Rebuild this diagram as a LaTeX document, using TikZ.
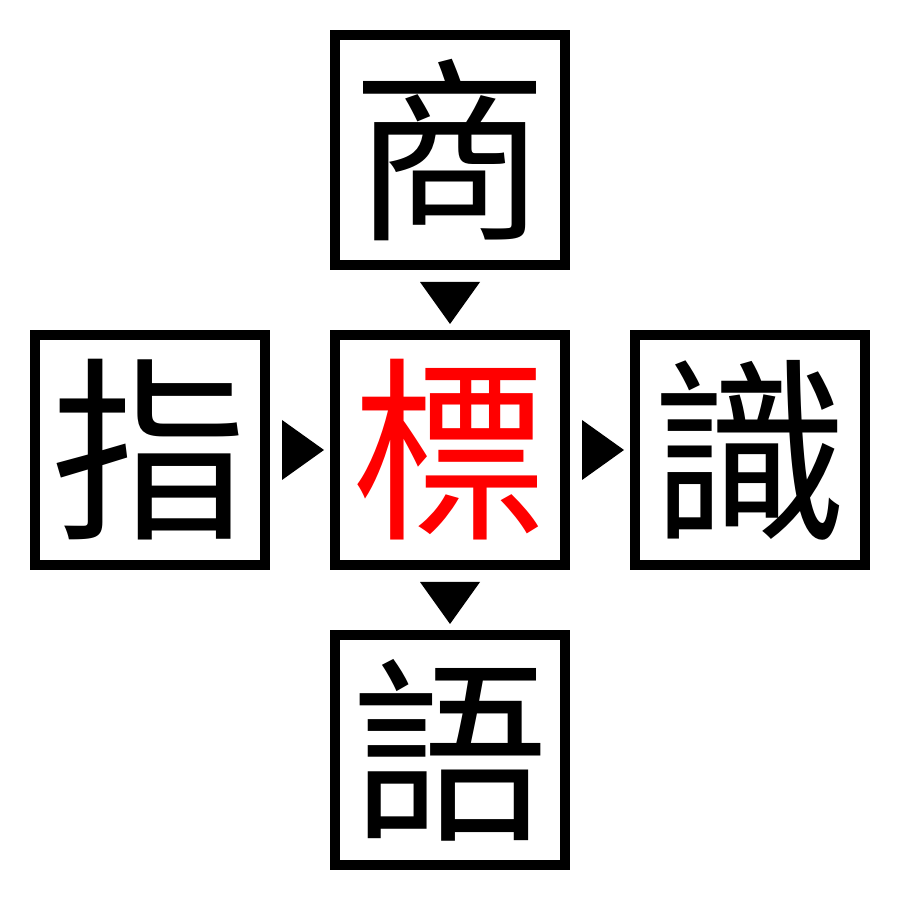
\documentclass[tikz,border=0pt]{standalone}
\usepackage{fontspec}
\newfontfamily\cjk{Noto Sans CJK TC}
\usetikzlibrary{calc}
\begin{document}
\begin{tikzpicture}[
  charbox/.style={draw=black, line width=0.1cm, minimum size=2.3cm, inner sep=0pt, font=\cjk\fontsize{56}{56}\selectfont},
  tri/.style={fill=black}
]
\useasboundingbox (0,0) rectangle (9,9);
\node[charbox] (top) at (4.5,7.5) {商};
\node[charbox, text=red] (mid) at (4.5,4.5) {標};
\node[charbox] (left) at (1.5,4.5) {指};
\node[charbox] (right) at (7.5,4.5) {識};
\node[charbox] (bot) at (4.5,1.5) {語};
% downward triangles
\fill[tri] ($(top.south)+(-0.3,-0.12)$) -- ($(top.south)+(0.3,-0.12)$) -- ($(mid.north)+(0,0.06)$) -- cycle;
\fill[tri] ($(mid.south)+(-0.3,-0.12)$) -- ($(mid.south)+(0.3,-0.12)$) -- ($(bot.north)+(0,0.06)$) -- cycle;
% rightward triangles
\fill[tri] ($(left.east)+(0.12,0.3)$) -- ($(left.east)+(0.12,-0.3)$) -- ($(mid.west)+(-0.06,0)$) -- cycle;
\fill[tri] ($(mid.east)+(0.12,0.3)$) -- ($(mid.east)+(0.12,-0.3)$) -- ($(right.west)+(-0.06,0)$) -- cycle;
\end{tikzpicture}
\end{document}
